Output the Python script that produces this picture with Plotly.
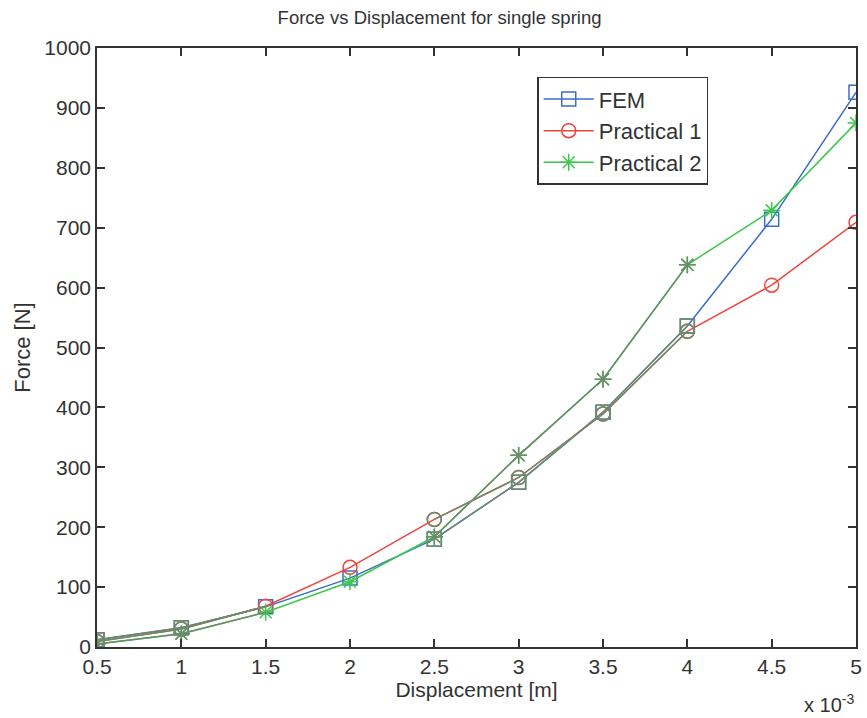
import plotly.graph_objects as go

# Displacement (x 10^-3 m)
displacement = [0.5, 1.0, 1.5, 2.0, 2.5, 3.0, 3.5, 4.0, 4.5, 5.0]
fem = [12, 32, 67, 115, 180, 275, 392, 536, 714, 926]
practical1 = [9, 30, 68, 133, 213, 283, 389, 527, 604, 709]
practical2 = [5, 22, 58, 109, 184, 320, 447, 638, 729, 875]

x_ticks = [0.5, 1, 1.5, 2, 2.5, 3, 3.5, 4, 4.5, 5]
x_tick_labels = ["0.5", "1", "1.5", "2", "2.5", "3", "3.5", "4", "4.5", "5"]
y_ticks = list(range(0, 1001, 100))

series = [
    ("FEM", fem, "#3a6cc8", "square-open"),
    ("Practical 1", practical1, "#f0443c", "circle-open"),
    ("Practical 2", practical2, "#3cc84a", "asterisk-open"),
]
scan_gray = "#6b8c6b"
gray_line_idx = [[0, 1, 2], [4, 5, 6, 7]]
gray_marker_idx = [0, 1, 4, 5, 6, 7]

FONT = "Liberation Sans, Arial, sans-serif"
TXT = "#333333"

fig = go.Figure()
for name, ys, color, sym in series:
    fig.add_trace(go.Scatter(
        x=displacement, y=ys, name=name, mode="lines+markers",
        line=dict(color=color, width=1.5),
        marker=dict(symbol=sym, size=14, color=color, line=dict(color=color, width=1.5)),
    ))
for name, ys, color, sym in series:
    gx, gy = [], []
    for seg in gray_line_idx:
        gx += [displacement[i] for i in seg] + [None]
        gy += [ys[i] for i in seg] + [None]
    fig.add_trace(go.Scatter(
        x=gx, y=gy, mode="lines", showlegend=False, hoverinfo="skip",
        line=dict(color=scan_gray, width=1.5),
    ))
    fig.add_trace(go.Scatter(
        x=[displacement[i] for i in gray_marker_idx], y=[ys[i] for i in gray_marker_idx],
        mode="markers", showlegend=False, hoverinfo="skip",
        marker=dict(symbol=sym, size=14, color=scan_gray, line=dict(color=scan_gray, width=1.5)),
    ))

axis_common = dict(
    showgrid=False, zeroline=False, showline=True, linecolor=TXT, linewidth=1.5,
    mirror="ticks", ticks="inside", ticklen=8, tickwidth=1.5, tickcolor=TXT,
    tickfont=dict(family=FONT, size=21, color=TXT),
)

fig.update_layout(
    width=867, height=718,
    margin=dict(l=97, r=5, t=48, b=71),
    paper_bgcolor="white", plot_bgcolor="white",
    title=dict(text="Force vs Displacement for single spring", x=0.507, xanchor="center",
               y=0.975, yanchor="middle",
               font=dict(family=FONT, size=18.5, color=TXT)),
    xaxis=dict(range=[0.5, 5], tickvals=x_ticks, ticktext=x_tick_labels,
               title=dict(text="Displacement [m]", standoff=4,
                          font=dict(family=FONT, size=21, color=TXT)),
               **axis_common),
    yaxis=dict(range=[0, 1000], tickvals=y_ticks,
               title=dict(text="Force [N]", standoff=8,
                          font=dict(family=FONT, size=22, color=TXT)),
               **axis_common),
    legend=dict(x=0.58, y=0.952, xanchor="left", yanchor="top",
                bgcolor="white", bordercolor=TXT, borderwidth=1.5,
                font=dict(family=FONT, size=22, color=TXT),
                tracegroupgap=0, itemwidth=50),
    annotations=[dict(text="x 10<sup>-3</sup>", xref="paper", yref="paper", x=1.0, y=-0.094,
                      xanchor="right", yanchor="middle", showarrow=False,
                      font=dict(family=FONT, size=20, color=TXT))],
)

fig.write_html("out.html")
